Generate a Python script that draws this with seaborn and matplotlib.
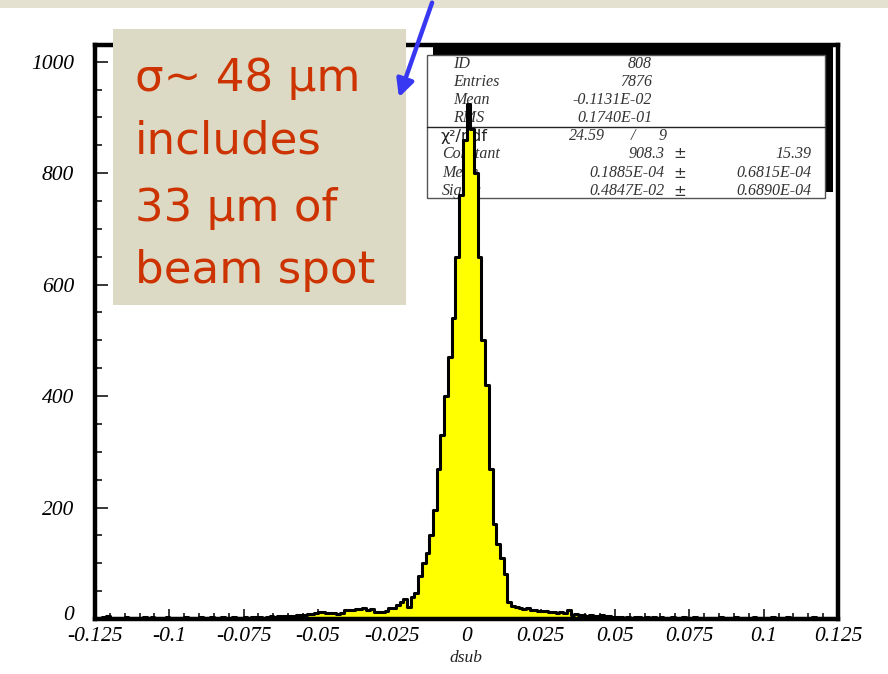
import numpy as np
import pandas as pd
import matplotlib
matplotlib.use("Agg")
import matplotlib.pyplot as plt
import matplotlib.transforms as mtransforms
import seaborn as sns
from matplotlib.patches import Rectangle, FancyArrowPatch
from matplotlib.ticker import FixedLocator, MultipleLocator

# ---------------- data ----------------
x_min, x_max = -0.125, 0.125
n_bins = 200

tail_left_far = [2, 1, 3, 5, 2, 1, 2, 1, 3, 2,
                 1, 2, 1, 3, 2, 3, 1, 1, 2, 3,
                 1, 2, 2, 1, 3, 2, 1, 2, 4, 2,
                 1, 3, 2, 2, 3, 1, 2, 3, 2, 2]
tail_left_mid = [3, 2, 4, 3, 3, 2, 4, 5, 4, 5, 6, 5, 5, 6, 7]
tail_left_near = [7, 8, 9, 9, 10, 12, 12, 11, 10, 10, 9, 10, 17, 17, 16, 18,
                  18, 19, 17, 18, 12, 13, 13, 14, 19, 20, 25, 31, 35, 22, 40, 47]
core = [78, 100, 118, 150, 195, 270, 330, 400, 470, 540, 650, 760,
        860, 925, 880, 800, 650, 500, 420, 270, 170, 135, 110, 80]
tail_right_near = [31, 24, 22, 19, 18, 20, 16, 17, 15, 14, 15, 13, 12, 11, 12,
                   11, 17, 8, 9, 7, 8, 6, 7, 5, 6, 7, 5, 6, 4]
tail_right_far = [4, 3, 2, 4, 2, 3, 3, 2, 3, 1, 3, 2, 3, 2, 1, 3, 2, 2, 3, 1,
                  2, 3, 1, 2, 2, 2, 1, 2, 3, 1, 2, 1, 3, 2, 1, 2, 1, 3, 2, 1,
                  1, 2, 3, 1, 2, 1, 4, 2, 1, 2, 1, 2, 1, 3, 1, 2, 1, 1, 2, 1]
counts = (tail_left_far + tail_left_mid + tail_left_near + core
          + tail_right_near + tail_right_far)

x_ticks = [-0.125, -0.1, -0.075, -0.05, -0.025, 0, 0.025, 0.05, 0.075, 0.1, 0.125]
x_tick_labels = ["-0.125", "-0.1", "-0.075", "-0.05", "-0.025", "0",
                 "0.025", "0.05", "0.075", "0.1", "0.125"]
y_ticks = [0, 200, 400, 600, 800, 1000]
y_tick_labels = ["0", "200", "400", "600", "800", "1000"]
x_label = "dsub"

stats_labels = ["ID", "Entries", "Mean", "RMS"]
stats_values = ["808", "7876", "-0.1131E-02", "0.1740E-01"]
chi2_label = "χ²/ndf"
chi2_values = ["24.59", "/", "9"]
fit_labels = ["Constant", "Mean", "Sigma"]
fit_values = ["908.3", "0.1885E-04", "0.4847E-02"]
fit_errors = ["15.39", "0.6815E-04", "0.6890E-04"]

note_lines = ["σ~ 48 μm", "includes", "33 μm of", "beam spot"]

# ---------------- figure ----------------
sns.set_theme(style="white")
W, H = 888, 674
fig = plt.figure(figsize=(W / 100, H / 100), dpi=100)
fig.patch.set_facecolor("white")


def fx(px):
    return px / W


def fy(py):
    return 1 - py / H


ax = fig.add_axes([fx(95), fy(619), fx(838) - fx(95), fy(45) - fy(619)])
ax.set_facecolor("white")

bin_width = (x_max - x_min) / n_bins
centers = [x_min + (i + 0.5) * bin_width for i in range(n_bins)]
df = pd.DataFrame({"dsub": centers, "count": counts})
sns.histplot(data=df, x="dsub", weights="count", bins=n_bins,
             binrange=(x_min, x_max), element="step",
             fill=True, color="#FFFF00", alpha=1, edgecolor="black",
             linewidth=2.2, ax=ax, zorder=3)

ax.set_xlim(x_min, x_max)
ax.set_ylim(0, 1030)
ax.set_xlabel("")
ax.set_ylabel("")
ax.grid(False)

for s in ax.spines.values():
    s.set_linewidth(3.2)
    s.set_color("black")
    s.set_zorder(5)

ax.xaxis.set_major_locator(FixedLocator(x_ticks))
ax.xaxis.set_minor_locator(MultipleLocator(0.005))
ax.yaxis.set_major_locator(FixedLocator(y_ticks))
ax.yaxis.set_minor_locator(MultipleLocator(50))
ax.tick_params(axis="x", which="major", direction="in", length=7, width=1.1,
               color="black", pad=6, bottom=True, top=False)
ax.tick_params(axis="x", which="minor", direction="in", length=4, width=1.1,
               color="black", bottom=True, top=False)
ax.tick_params(axis="y", which="major", direction="in", length=9, width=1.1,
               color="black", pad=15, left=True, right=False)
ax.tick_params(axis="y", which="minor", direction="in", length=5, width=1.1,
               color="black", left=True, right=False)

tick_font = dict(family="Liberation Serif", style="italic", size=15.5, color="black")
ax.set_xticklabels(x_tick_labels, **tick_font)
ax.set_yticklabels(y_tick_labels, **tick_font)
# raise the "0" label of the y axis a little, as in the reference
zero_lab = ax.get_yticklabels()[0]
zero_lab.set_transform(zero_lab.get_transform()
                       + mtransforms.ScaledTranslation(0, 6 / 100, fig.dpi_scale_trans))

fig.text(fx(466), fy(658), x_label, family="Liberation Serif", style="italic",
         size=12.5, ha="center", va="center", color="#222222")

# ---------------- stats box ----------------
ax.add_patch(Rectangle((fx(433), fy(192)), fx(833) - fx(433), fy(47) - fy(192),
                       transform=fig.transFigure, facecolor="black",
                       edgecolor="none", zorder=1, clip_on=False))
ax.add_patch(Rectangle((fx(427), fy(198)), fx(825) - fx(427), fy(55) - fy(198),
                       transform=fig.transFigure, facecolor="white",
                       edgecolor="#555555", linewidth=1.0, zorder=1.2, clip_on=False))
ax.add_line(plt.Line2D([fx(427), fx(825)], [fy(127), fy(127)],
                       transform=fig.transFigure, color="#222222",
                       linewidth=1.0, zorder=1.3))

stat_font = dict(family="Liberation Serif", style="italic", size=11.5,
                 color="#333333", transform=fig.transFigure, zorder=1.5,
                 va="center")
rows_y = [64, 82, 100, 118, 136, 154, 173, 191]
for i, (lab, val) in enumerate(zip(stats_labels, stats_values)):
    ax.text(fx(453), fy(rows_y[i]), lab, ha="left", **stat_font)
    ax.text(fx(652), fy(rows_y[i]), val, ha="right", **stat_font)

ax.text(fx(440), fy(rows_y[4]), chi2_label, ha="left", va="center",
        family="DejaVu Sans", size=11.5, color="#222222",
        transform=fig.transFigure, zorder=1.5)
ax.text(fx(605), fy(rows_y[4]), chi2_values[0], ha="right", **stat_font)
ax.text(fx(633), fy(rows_y[4]), chi2_values[1], ha="center", **stat_font)
ax.text(fx(667), fy(rows_y[4]), chi2_values[2], ha="right", **stat_font)

for j, (lab, val, err) in enumerate(zip(fit_labels, fit_values, fit_errors)):
    yy = fy(rows_y[5 + j])
    ax.text(fx(442), yy, lab, ha="left", **stat_font)
    ax.text(fx(665), yy, val, ha="right", **stat_font)
    ax.text(fx(680), yy, "±", ha="center", va="center", family="DejaVu Sans",
            size=11, color="#333333", transform=fig.transFigure, zorder=1.5)
    ax.text(fx(811), yy, err, ha="right", **stat_font)

# ---------------- slide decorations ----------------
fig.patches.append(Rectangle((0, fy(8)), 1, 8 / H, transform=fig.transFigure,
                             facecolor="#E4E1D0", edgecolor="none", zorder=1))
fig.patches.append(Rectangle((fx(113), fy(305)), fx(406) - fx(113), fy(29) - fy(305),
                             transform=fig.transFigure, facecolor="#DCDAC5",
                             edgecolor="none", zorder=2))
note_baselines = [91, 153, 221, 283]
for line, yb in zip(note_lines, note_baselines):
    fig.text(fx(135), fy(yb), line, ha="left", va="baseline",
             family="DejaVu Sans", size=32.5, color="#CC3300", zorder=3)

arrow = FancyArrowPatch((fx(433), fy(0)), (fx(398), fy(100)),
                        transform=fig.transFigure, arrowstyle="-|>",
                        mutation_scale=26, linewidth=3.2, color="#3838F2",
                        zorder=4)
fig.patches.append(arrow)

fig.savefig("out.png", dpi=100)
